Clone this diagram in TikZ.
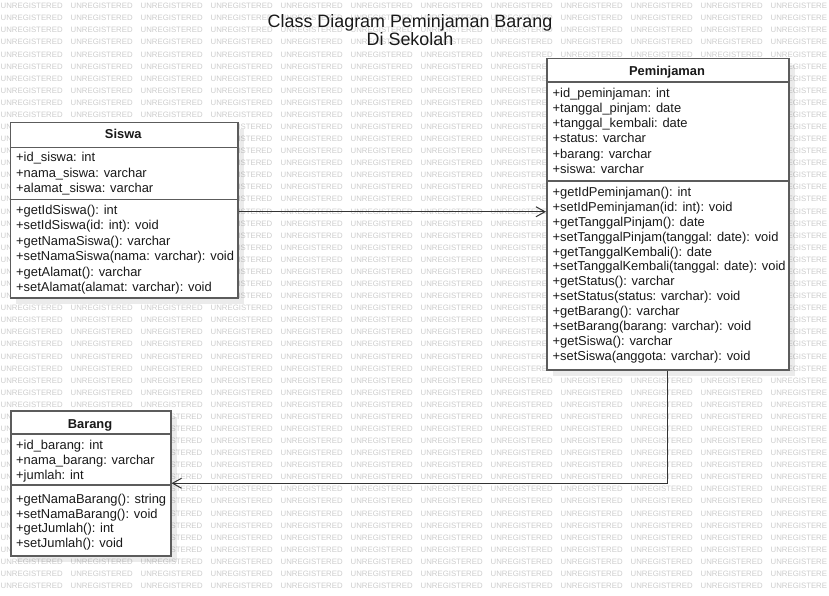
\documentclass[tikz,border=0pt]{standalone}
\usepackage{fontspec}
\setmainfont{Liberation Sans}
\usetikzlibrary{arrows.meta,shadows}
\definecolor{wmc}{RGB}{205,205,205}
\definecolor{borderc}{RGB}{92,92,92}
\definecolor{linec}{RGB}{51,51,51}
\definecolor{textc}{RGB}{25,25,25}
\tikzset{
  wm/.style={anchor=west,inner sep=0pt,text=wmc,font=\fontsize{7.8}{8}\selectfont},
  classbox/.style={draw=borderc,line width=1.5pt,fill=white,anchor=north west,inner sep=0pt,
    drop shadow={shadow xshift=6pt,shadow yshift=-6pt,opacity=0.08,fill=black}},
  sepline/.style={draw=borderc,line width=1.5pt},
  txt/.style={anchor=base west,inner sep=0pt,text=textc,font=\fontsize{12.9}{15}\selectfont},
  hdr/.style={anchor=base,inner sep=0pt,text=textc,font=\fontsize{12.9}{15}\selectfont\bfseries},
  ttl/.style={anchor=base,inner sep=0pt,text=textc,font=\fontsize{17.9}{20}\selectfont},
  conn/.style={draw=linec,line width=1.1pt,-{Straight Barb[length=9pt,width=10pt,line width=1pt]}}
}
\begin{document}
\begin{tikzpicture}[x=1pt,y=-1pt]
\useasboundingbox (0,0) rectangle (829,596);
\clip (0,0) rectangle (829,596);
\fill[white] (0,0) rectangle (829,596);
% watermark (only the parts that are not hidden by the class boxes)
\foreach \r in {0,...,48}{
  \pgfmathsetmacro\yy{6+12.08*\r}
  \def\inS{0}\def\inB{0}\def\inP{0}
  \ifnum\r>9 \ifnum\r<25 \def\inS{1}\fi\fi
  \ifnum\r>33 \ifnum\r<46 \def\inB{1}\fi\fi
  \ifnum\r>4 \ifnum\r<31 \def\inP{1}\fi\fi
  \pgfmathtruncatemacro\inSB{\inS+\inB}
  % column 0
  \ifnum\inSB=0 \node[wm] (w0-\r) at (0.5,\yy) {UNREGISTERED};
  \else \node[wm] (w0-\r) at (0.5,\yy) {UN};\fi
  % column 1
  \ifnum\inSB=0 \node[wm] (w1-\r) at (70.5,\yy) {UNREGISTERED};\fi
  % column 2
  \ifnum\inS=0
    \ifnum\inB=0 \node[wm] (w2-\r) at (140.5,\yy) {UNREGISTERED};
    \else \node[wm,anchor=east] (w2-\r) at (202.5,\yy) {STERED};\fi
  \fi
  % column 3
  \ifnum\inS=0 \node[wm] (w3-\r) at (210.5,\yy) {UNREGISTERED};
  \else \node[wm,anchor=east] (w3-\r) at (272.5,\yy) {ISTERED};\fi
  % columns 4-6
  \node[wm] (w4-\r) at (280.5,\yy) {UNREGISTERED};
  \node[wm] (w5-\r) at (350.5,\yy) {UNREGISTERED};
  \node[wm] (w6-\r) at (420.5,\yy) {UNREGISTERED};
  % column 7
  \ifnum\inP=0 \node[wm] (w7-\r) at (490.5,\yy) {UNREGISTERED};
  \else \node[wm] (w7-\r) at (490.5,\yy) {UNREGISTERE};\fi
  % columns 8-10
  \ifnum\inP=0
    \node[wm] (w8-\r) at (560.5,\yy) {UNREGISTERED};
    \node[wm] (w9-\r) at (630.5,\yy) {UNREGISTERED};
    \node[wm] (w10-\r) at (700.5,\yy) {UNREGISTERED};
  \fi
  % column 11 (cut by the right edge)
  \ifnum\inP=0 \node[wm] (w11-\r) at (770.5,\yy) {UNREGISTERE};
  \else \node[wm] (w11-\r) at (787.4,\yy) {EGISTERE};\fi
}
% title
\node[ttl] (title1) at (410,27.3) {Class Diagram Peminjaman Barang};
\node[ttl] (title2) at (410,46) {Di Sekolah};
% Siswa
\node[classbox,minimum width=227.5pt,minimum height=175pt] (siswa) at (9.5,122) {};
\draw[sepline] (siswa.west |- 0,147.5) -- (siswa.east |- 0,147.5);
\draw[sepline] (siswa.west |- 0,199.5) -- (siswa.east |- 0,199.5);
\node[hdr] (siswa-h) at (123.25,138.5) {Siswa};
\foreach \t [count=\i] in {+id\_siswa: int,+nama\_siswa: varchar,+alamat\_siswa: varchar}
  \node[txt] (sa\i) at (16, 146.3+15.4*\i) {\t};
\foreach \t [count=\i] in {+getIdSiswa(): int,+setIdSiswa(id: int): void,+getNamaSiswa(): varchar,+setNamaSiswa(nama: varchar): void,+getAlamat(): varchar,+setAlamat(alamat: varchar): void}
  \node[txt] (sm\i) at (16, 199+15.4*\i) {\t};
% Peminjaman
\node[classbox,minimum width=242pt,minimum height=311pt] (pem) at (546,58) {};
\draw[sepline] (pem.west |- 0,82) -- (pem.east |- 0,82);
\draw[sepline] (pem.west |- 0,181) -- (pem.east |- 0,181);
\node[hdr] (pem-h) at (667,75.7) {Peminjaman};
\foreach \t [count=\i] in {+id\_peminjaman: int,+tanggal\_pinjam: date,+tanggal\_kembali: date,+status: varchar,+barang: varchar,+siswa: varchar}
  \node[txt] (pa\i) at (552.5, 82.6+15.1*\i) {\t};
\foreach \t [count=\i] in {+getIdPeminjaman(): int,+setIdPeminjaman(id: int): void,+getTanggalPinjam(): date,+setTanggalPinjam(tanggal: date): void,+getTanggalKembali(): date,+setTanggalKembali(tanggal: date): void,+getStatus(): varchar,+setStatus(status: varchar): void,+getBarang(): varchar,+setBarang(barang: varchar): void,+getSiswa(): varchar,+setSiswa(anggota: varchar): void}
  \node[txt] (pm\i) at (552.5, 181.85+14.85*\i) {\t};
% Barang
\node[classbox,minimum width=160pt,minimum height=145pt] (barang) at (10,410) {};
\draw[sepline] (barang.west |- 0,434) -- (barang.east |- 0,434);
\draw[sepline] (barang.west |- 0,485) -- (barang.east |- 0,485);
\node[hdr] (barang-h) at (90,428.3) {Barang};
\foreach \t [count=\i] in {+id\_barang: int,+nama\_barang: varchar,+jumlah: int}
  \node[txt] (ba\i) at (16, 434.3+15*\i) {\t};
\foreach \t [count=\i] in {+getNamaBarang(): string,+setNamaBarang(): void,+getJumlah(): int,+setJumlah(): void}
  \node[txt] (bm\i) at (16, 488.5+14.8*\i) {\t};
% connectors
\draw[conn] (siswa.east) ++(0,1.5) coordinate (c1) -- (c1 -| pem.west);
\draw[conn] (pem.south) |- (barang.east);
\end{tikzpicture}
\end{document}
